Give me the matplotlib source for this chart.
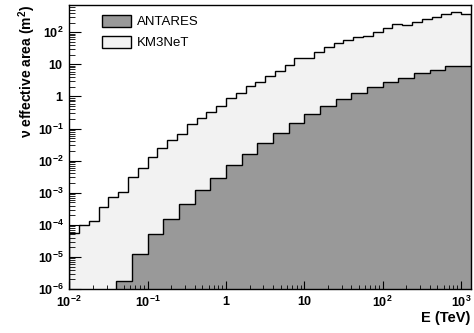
import numpy as np
import matplotlib
matplotlib.use('Agg')
import matplotlib.pyplot as plt
from matplotlib.patches import Patch
from matplotlib.ticker import LogLocator, FuncFormatter, NullFormatter

# bin edges in log10(E / TeV)
km3_log_edges = np.arange(-2.0, 3.126, 0.125)
antares_log_edges = np.arange(-1.4, 3.21, 0.2)

# neutrino effective area per bin (m^2)
km3_area = [5.6e-5, 1.02e-4, 1.3e-4, 3.7e-4, 7.6e-4, 1.07e-3, 3.0e-3, 5.9e-3,
            1.33e-2, 2.45e-2, 4.4e-2, 6.9e-2, 0.135, 0.22, 0.32, 0.51,
            0.87, 1.29, 2.19, 2.88, 4.37, 6.3, 9.8, 15.5,
            16.2, 25.1, 33.9, 46.8, 58.9, 72.4, 77.6, 105,
            132, 182, 170, 204, 257, 295, 372, 417, 380]
antares_area = [1.8e-6, 1.23e-5, 5.1e-5, 1.55e-4, 4.5e-4, 1.2e-3, 2.8e-3, 7.1e-3,
                1.64e-2, 3.47e-2, 7.4e-2, 0.151, 0.275, 0.49, 0.85, 1.30,
                2.0, 2.87, 3.89, 5.5, 6.9, 8.9, 8.9]

labels = ['ANTARES', 'KM3NeT']
colors = ['#999999', '#f2f2f2']

plt.rcParams['font.family'] = ['Liberation Sans', 'DejaVu Sans']
plt.rcParams['mathtext.fontset'] = 'custom'
plt.rcParams['mathtext.rm'] = 'Liberation Sans'
plt.rcParams['mathtext.bf'] = 'Liberation Sans:bold'
plt.rcParams['mathtext.it'] = 'Liberation Sans:italic'

fig = plt.figure(figsize=(4.74, 3.33), dpi=100)
ax = fig.add_axes([0.1462, 0.1321, 0.8468, 0.8538])

km3_edges = 10 ** km3_log_edges
ant_edges = 10 ** antares_log_edges
base = 1e-9

ax.stairs(km3_area, km3_edges, baseline=base, fill=True, color=colors[1])
ax.stairs(km3_area, km3_edges, baseline=base, color='black', lw=1)
ax.stairs(antares_area, ant_edges, baseline=base, fill=True, color=colors[0])
ax.stairs(antares_area, ant_edges, baseline=base, color='black', lw=1)

ax.set_xscale('log')
ax.set_yscale('log')
ax.set_xlim(1e-2, 10 ** 3.125)
ax.set_ylim(1e-6, 10 ** 2.86)


def log_label(v, pos):
    e = int(round(np.log10(v)))
    if e == 0:
        return r'$\mathbf{1}$'
    if e == 1:
        return r'$\mathbf{10}$'
    return r'$\mathbf{10^{%d}}$' % e


for axis in (ax.xaxis, ax.yaxis):
    axis.set_major_locator(LogLocator(base=10, numticks=20))
    axis.set_minor_locator(LogLocator(base=10, subs=np.arange(2, 10), numticks=20))
    axis.set_major_formatter(FuncFormatter(log_label))
    axis.set_minor_formatter(NullFormatter())

ax.tick_params(which='both', direction='in', top=False, right=False, labelsize=9)
ax.tick_params(axis='x', which='major', length=5.5, pad=4)
ax.tick_params(axis='x', which='minor', length=3)
ax.tick_params(axis='y', which='major', length=8.5, pad=4)
ax.tick_params(axis='y', which='minor', length=4.3)

for sp in ax.spines.values():
    sp.set_linewidth(1)
    sp.set_color('black')

ax.set_xlabel('E (TeV)', loc='right', fontsize=10.5, fontweight='bold', labelpad=1)
ax.set_ylabel(r'ν effective area (m$^\mathbf{2}$)', loc='top', fontsize=10,
              fontweight='bold', labelpad=0)

handles = [Patch(facecolor=c, edgecolor='black', lw=1) for c in colors]
ax.legend(handles, labels, loc='upper left', bbox_to_anchor=(0.0807, 0.9637),
          frameon=False, fontsize=9.5, borderpad=0, borderaxespad=0,
          handlelength=2.2, handleheight=1.0, handletextpad=0.45, labelspacing=0.55)

fig.savefig('out.png', dpi=100)
